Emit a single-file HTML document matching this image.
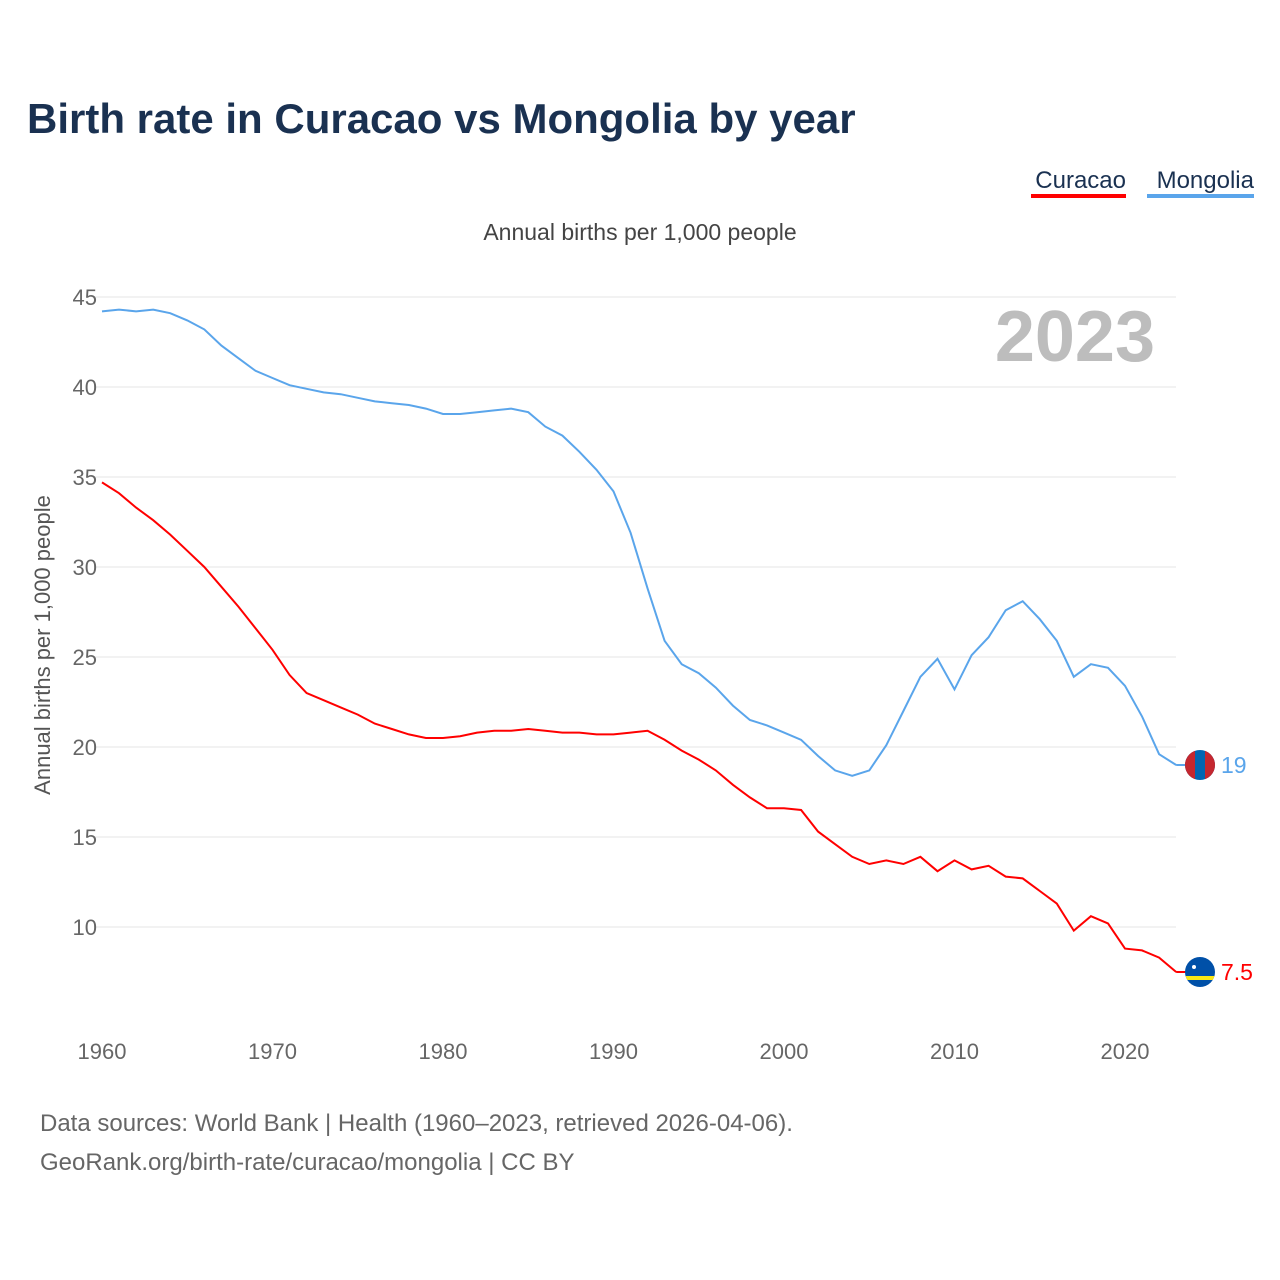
<!DOCTYPE html>
<html><head><meta charset="utf-8"><style>
body{margin:0;background:#fff;font-family:"Liberation Sans",sans-serif;}
svg{display:block}
</style></head><body>
<svg width="1280" height="1280" xmlns="http://www.w3.org/2000/svg" font-family="Liberation Sans, sans-serif">
<defs><clipPath id="cm"><circle cx="1200" cy="765" r="15"/></clipPath><clipPath id="cc"><circle cx="1200" cy="972" r="15"/></clipPath></defs>
<text x="27" y="133" font-size="42" font-weight="bold" fill="#1a3151">Birth rate in Curacao vs Mongolia by year</text>
<g>
<g><text x="1126" y="188" font-size="24" text-anchor="end" fill="#1a3151">Curacao</text><rect x="1031" y="194" width="95" height="4" fill="#ff0000"/></g>
<g><text x="1254" y="188" font-size="24" text-anchor="end" fill="#1a3151">Mongolia</text><rect x="1147" y="194" width="107" height="4" fill="#5aa5eb"/></g>
</g>
<text x="640" y="240" font-size="23" text-anchor="middle" fill="#444">Annual births per 1,000 people</text>
<text x="1155" y="361" font-size="72" font-weight="bold" text-anchor="end" fill="#bdbdbd">2023</text>
<text transform="translate(50,645) rotate(-90)" font-size="22" text-anchor="middle" fill="#555">Annual births per 1,000 people</text>
<g id="grid"></g><g id="ylabels"></g><g id="xlabels"></g><g id="lines"></g><g id="ends"></g>
<text x="40" y="1131" font-size="24" fill="#666">Data sources: World Bank | Health (1960–2023, retrieved 2026-04-06).</text>
<text x="40" y="1170" font-size="24" fill="#666">GeoRank.org/birth-rate/curacao/mongolia | CC BY</text>
</svg>
<script>
const years=[];for(let y=1960;y<=2023;y++)years.push(y);
const mongolia=[44.2,44.3,44.2,44.3,44.1,43.7,43.2,42.3,41.6,40.9,40.5,40.1,39.9,39.7,39.6,39.4,39.2,39.1,39.0,38.8,38.5,38.5,38.6,38.7,38.8,38.6,37.8,37.3,36.4,35.4,34.2,31.9,28.8,25.9,24.6,24.1,23.3,22.3,21.5,21.2,20.8,20.4,19.5,18.7,18.4,18.7,20.1,22.0,23.9,24.9,23.2,25.1,26.1,27.6,28.1,27.1,25.9,23.9,24.6,24.4,23.4,21.7,19.6,19.0];
const curacao=[34.7,34.1,33.3,32.6,31.8,30.9,30.0,28.9,27.8,26.6,25.4,24.0,23.0,22.6,22.2,21.8,21.3,21.0,20.7,20.5,20.5,20.6,20.8,20.9,20.9,21.0,20.9,20.8,20.8,20.7,20.7,20.8,20.9,20.4,19.8,19.3,18.7,17.9,17.2,16.6,16.6,16.5,15.3,14.6,13.9,13.5,13.7,13.5,13.9,13.1,13.7,13.2,13.4,12.8,12.7,12.0,11.3,9.8,10.6,10.2,8.8,8.7,8.3,7.5];
const yTicks=[10,15,20,25,30,35,40,45];
const xTicks=[1960,1970,1980,1990,2000,2010,2020];
const NS="http://www.w3.org/2000/svg";
const X=v=>102+(v-1960)*17.05;
const Y=v=>1107-v*18;
function mk(t,a,p){const e=document.createElementNS(NS,t);for(const k in a)e.setAttribute(k,a[k]);p.appendChild(e);return e;}
const grid=document.getElementById('grid'),yl=document.getElementById('ylabels'),xl=document.getElementById('xlabels');
yTicks.forEach(v=>{
 const l=mk('line',{x1:95,x2:1176,y1:Y(v),y2:Y(v),stroke:'#e6e6e6','stroke-width':1},grid);
 
 
 const t=mk('text',{x:97,y:Y(v)+8,'font-size':22,'text-anchor':'end',fill:'#666'},yl);
 t.textContent=v;
 
 
});
xTicks.forEach(v=>{
 const t=mk('text',{x:X(v),y:1059,'font-size':22,'text-anchor':'middle',fill:'#666'},xl);
 t.textContent=v;
 
 
});
const lines=document.getElementById('lines'),ends=document.getElementById('ends');
[[mongolia,'#5aa5eb','mongolia','19'],[curacao,'#ff0000','curacao','7.5']].forEach(([d,c,n,lab])=>{
 const p=mk('path',{d:d.map((v,i)=>(i?'L':'M')+X(years[i]).toFixed(1)+','+Y(v).toFixed(1)).join(''),fill:'none',stroke:c,'stroke-width':2},lines);
 
 
 const last=d[d.length-1];
 const lx=X(years[years.length-1]);
 mk('line',{x1:lx,x2:1200,y1:Y(last),y2:Y(last),stroke:c,'stroke-width':2},ends);
 const cy=Y(last);
 const g=mk('g',{},ends);
 
 
 if(n==='mongolia'){
  const cp=document.getElementById('cm').firstChild;cp.setAttribute('cy',cy);
  g.setAttribute('clip-path','url(#cm)');
  mk('rect',{x:1185,y:cy-15,width:30,height:30,fill:'#0066b3'},g);
  mk('rect',{x:1185,y:cy-15,width:10,height:30,fill:'#c4272f'},g);
  mk('rect',{x:1205,y:cy-15,width:10,height:30,fill:'#c4272f'},g);
 } else {
  const cp=document.getElementById('cc').firstChild;cp.setAttribute('cy',cy);
  g.setAttribute('clip-path','url(#cc)');
  mk('rect',{x:1185,y:cy-15,width:30,height:30,fill:'#0050a8'},g);
  mk('rect',{x:1185,y:cy+4,width:30,height:4,fill:'#f9e814'},g);
  mk('circle',{cx:1194,cy:cy-5,r:2,fill:'#fff'},g);
 }
 const t=mk('text',{x:1221,y:Y(last)+8,'font-size':23,fill:c},ends);
 t.textContent=lab;
 
 
});
</script>
</body></html>
